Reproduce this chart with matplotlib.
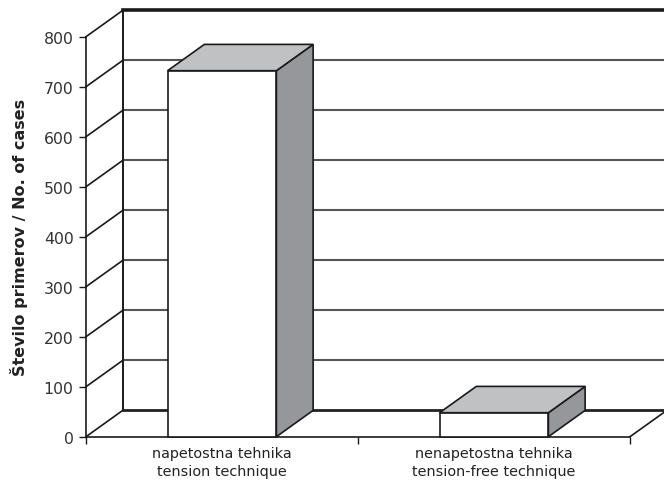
import matplotlib.pyplot as plt
from matplotlib.patches import Polygon

plt.rcParams['font.family'] = ['DejaVu Sans']

# Data
categories = ['napetostna tehnika\ntension technique',
              'nenapetostna tehnika\ntension-free technique']
cases = [732, 48]
y_ticks = [0, 100, 200, 300, 400, 500, 600, 700, 800]
y_label = 'Število primerov / No. of cases'

# 3D look: depth offset in data units, bar width in category units
DX = 0.135
DY = 52.6
BAR_W = 0.40

fig = plt.figure(figsize=(6.64, 4.81), dpi=100)
ax = fig.add_axes([86 / 664, 1 - 437.7 / 481, 544 / 664, 400 / 481])
ax.set_xlim(0, len(categories))
ax.set_ylim(y_ticks[0], y_ticks[-1])

for s in ['top', 'right']:
    ax.spines[s].set_visible(False)
for s in ['left', 'bottom']:
    ax.spines[s].set_color('#1a1a1a')
    ax.spines[s].set_linewidth(1.2)

ax.set_yticks(y_ticks)
ax.set_yticklabels([str(t) for t in y_ticks], fontsize=11.3, color='#333333')
ax.tick_params(axis='y', direction='out', length=5, width=1, color='#1a1a1a', pad=4)
ax.set_xticks(range(len(categories) + 1))
ax.set_xticklabels([])
ax.tick_params(axis='x', which='major', direction='out', length=5, width=1, color='#1a1a1a')
ax.set_xticks([i + 0.5 for i in range(len(categories))], minor=True)
ax.set_xticklabels(categories, minor=True, fontsize=10.4, color='#222222', linespacing=1.4)
ax.tick_params(axis='x', which='minor', length=0, pad=6.5)
ax.set_ylabel(y_label, fontsize=11.5, fontweight='bold', color='#222222', labelpad=11)

xmax = len(categories)
# back wall gridlines
for t in y_ticks:
    lw, col = (1.5, '#555555')
    if t == y_ticks[0]:
        lw, col = (2.0, '#222222')
    if t == y_ticks[-1]:
        lw, col = (2.6, '#1a1a1a')
    ax.plot([DX, xmax + DX], [t + DY, t + DY], color=col, lw=lw, clip_on=False, zorder=1)
    # side wall diagonals
    ax.plot([0, DX], [t, t + DY], color='#1a1a1a', lw=1.2, clip_on=False, zorder=1)
# side wall back edge and floor right edge
ax.plot([DX, DX], [DY, y_ticks[-1] + DY], color='#1a1a1a', lw=1.4, clip_on=False, zorder=1)
ax.plot([xmax, xmax + DX], [0, DY], color='#1a1a1a', lw=1.2, clip_on=False, zorder=1)

# bars
for i, v in enumerate(cases):
    x0 = i + 0.5 - BAR_W / 2
    x1 = i + 0.5 + BAR_W / 2
    front = [(x0, 0), (x1, 0), (x1, v), (x0, v)]
    top = [(x0, v), (x1, v), (x1 + DX, v + DY), (x0 + DX, v + DY)]
    side = [(x1, 0), (x1 + DX, DY), (x1 + DX, v + DY), (x1, v)]
    for pts, fc in [(side, '#96979a'), (top, '#c0c1c3'), (front, 'white')]:
        ax.add_patch(Polygon(pts, closed=True, facecolor=fc, edgecolor='#1a1a1a',
                             lw=1.2, joinstyle='miter', clip_on=False, zorder=3))

fig.savefig('out.png', dpi=100)
